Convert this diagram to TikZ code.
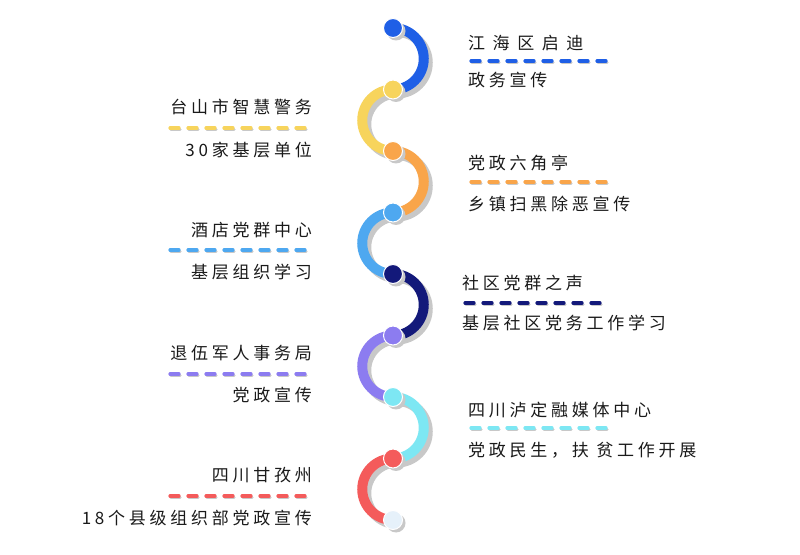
\documentclass[tikz,border=0pt]{standalone}
\usepackage{fontspec}
\setmainfont{Noto Sans CJK SC}[LetterSpace=22]
\definecolor{c1}{HTML}{1F5FE6}
\definecolor{c2}{HTML}{F7D45C}
\definecolor{c3}{HTML}{F9A54A}
\definecolor{c4}{HTML}{4EA8F0}
\definecolor{c5}{HTML}{13197A}
\definecolor{c6}{HTML}{8C7CF0}
\definecolor{c7}{HTML}{7DE7F3}
\definecolor{c8}{HTML}{F45B5B}
\definecolor{c9}{HTML}{E6F1FA}
\definecolor{txt}{HTML}{1A1A1A}
\definecolor{shd}{HTML}{C8C8C8}
\begin{document}
\begin{tikzpicture}[x=1pt,y=1pt,
  lab/.style={font=\fontsize{17}{19}\selectfont,text=txt,inner sep=0pt},
  dot/.style={circle,minimum size=19pt,inner sep=0pt,draw=white,line width=1pt},
  dsh/.style={line width=3.2pt,line cap=round,dash pattern=on 9pt off 9pt}]
\useasboundingbox (0,0) rectangle (800,554);
\fill[white] (0,0) rectangle (800,554);
\foreach \i in {1,...,9}{\coordinate (p\i) at (393,{526-61.5*(\i-1)});}
\foreach \i/\c/\s/\e in {1/c1/90/-90,2/c2/90/270,3/c3/90/-90,4/c4/90/270,5/c5/90/-90,6/c6/90/270,7/c7/90/-90,8/c8/90/270}{
  \draw[shd,line width=10pt] ([shift={(4,-4)}]p\i) arc[start angle=\s,end angle=\e,radius=30.75];
}
\foreach \i/\c/\s/\e in {1/c1/90/-90,2/c2/90/270,3/c3/90/-90,4/c4/90/270,5/c5/90/-90,6/c6/90/270,7/c7/90/-90,8/c8/90/270}{
  \draw[\c,line width=10pt] (p\i) arc[start angle=\s,end angle=\e,radius=30.75];
}
\foreach \i/\c in {1/c1,2/c2,3/c3,4/c4,5/c5,6/c6,7/c7,8/c8,9/c9}{
  \fill[shd] ([shift={(3,-3)}]p\i) circle (9.5);
  \node[dot,fill=\c] (d\i) at (p\i) {};
}
\newcommand\rlab[6]{%
  \node[lab,anchor=west] (t#6) at (#1,554-#2) {#4};
  \coordinate (a#6) at (#1+3,554-#5);
  \coordinate (b#6) at (#1+146,554-#5);
  \draw[dsh,shd] ([shift={(1,-1.5)}]a#6) -- ([shift={(1,-1.5)}]b#6);
  \draw[dsh,#3] (a#6) -- (b#6);}
\newcommand\llab[6]{%
  \node[lab,anchor=east] (t#6) at (#1,554-#2) {#4};
  \coordinate (a#6) at (#1-142,554-#5);
  \coordinate (b#6) at (#1-2,554-#5);
  \draw[dsh,shd] ([shift={(1,-1.5)}]a#6) -- ([shift={(1,-1.5)}]b#6);
  \draw[dsh,#3] (a#6) -- (b#6);}
\rlab{468}{43}{c1}{江 海 区 启 迪}{61}{A}
\node[lab,anchor=west] (sA) at (468,554-80) {政务宣传};
\llab{312}{107}{c2}{台山市智慧警务}{128}{B}
\node[lab,anchor=east] (sB) at (312,554-150) {30家基层单位};
\rlab{468}{163}{c3}{党政六角亭}{182}{C}
\node[lab,anchor=west] (sC) at (468,554-204) {乡镇扫黑除恶宣传};
\llab{312}{230}{c4}{酒店党群中心}{250}{D}
\node[lab,anchor=east] (sD) at (312,554-272) {基层组织学习};
\rlab{462}{283}{c5}{社区党群之声}{303}{E}
\node[lab,anchor=west] (sE) at (462,554-323) {基层社区党务工作学习};
\llab{312}{353}{c6}{退伍军人事务局}{374}{F}
\node[lab,anchor=east] (sF) at (312,554-395) {党政宣传};
\rlab{468}{410}{c7}{四川泸定融媒体中心}{428}{G}
\node[lab,anchor=west] (sG) at (468,554-450) {党政民生，扶 贫工作开展};
\llab{312}{475}{c8}{四川甘孜州}{496}{H}
\node[lab,anchor=east] (sH) at (312,554-518) {18个县级组织部党政宣传};
\end{tikzpicture}
\end{document}
